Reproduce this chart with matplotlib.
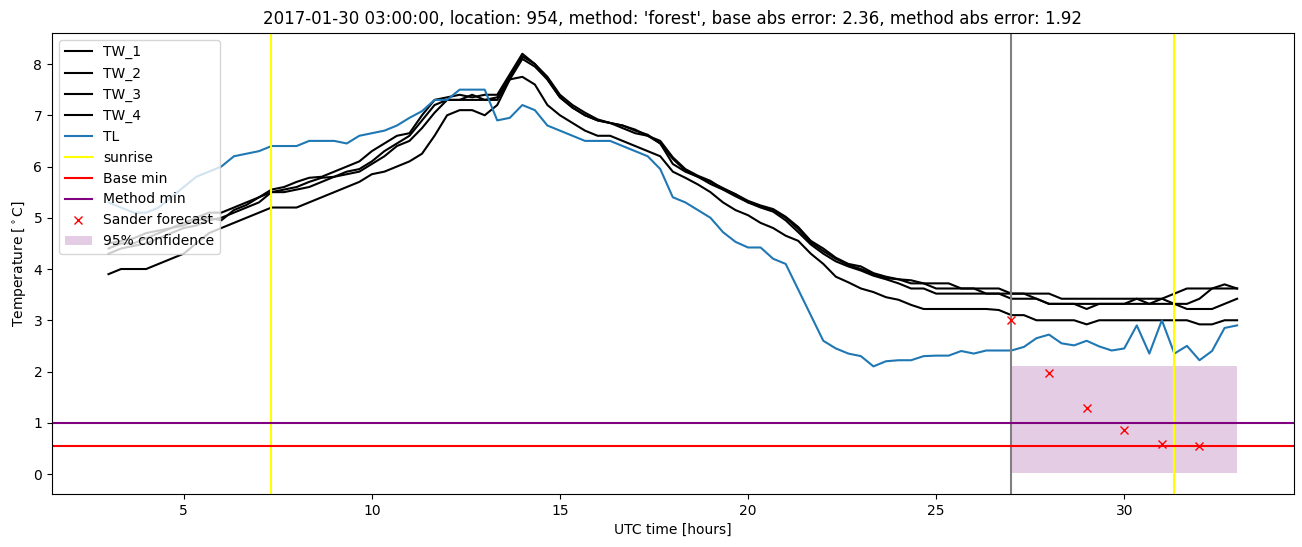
import numpy as np
import matplotlib
matplotlib.use("Agg")
import matplotlib.pyplot as plt

# time axis, 20 minute steps from 03 UTC to 33 UTC
hours = np.linspace(3, 33, 91)

tw_1 = [4.5, 4.55, 4.6, 4.7, 4.75, 4.8, 4.9, 5.0, 5.1, 5.1, 5.2, 5.3,
        5.4, 5.55, 5.6, 5.7, 5.78, 5.8, 5.9, 6.0, 6.1, 6.3, 6.45, 6.6,
        6.65, 7.0, 7.3, 7.35, 7.4, 7.35, 7.4, 7.4, 7.8, 8.2, 8.0, 7.7,
        7.35, 7.15, 7.0, 6.9, 6.85, 6.8, 6.7, 6.62, 6.45, 6.15, 5.92, 5.8,
        5.7, 5.58, 5.46, 5.33, 5.24, 5.17, 5.02, 4.82, 4.55, 4.4, 4.22, 4.1,
        4.05, 3.92, 3.85, 3.8, 3.78, 3.72, 3.72, 3.72, 3.62, 3.62, 3.62, 3.62,
        3.52, 3.52, 3.52, 3.52, 3.42, 3.42, 3.42, 3.42, 3.42, 3.42, 3.42, 3.42,
        3.42, 3.52, 3.62, 3.62, 3.62, 3.62, 3.62]
tw_2 = [4.3, 4.4, 4.45, 4.5, 4.6, 4.7, 4.8, 4.85, 4.95, 5.0, 5.1, 5.2,
        5.3, 5.5, 5.55, 5.6, 5.7, 5.78, 5.8, 5.9, 5.95, 6.1, 6.3, 6.45,
        6.6, 6.9, 7.2, 7.3, 7.3, 7.4, 7.3, 7.35, 7.75, 8.15, 8.0, 7.75,
        7.4, 7.2, 7.05, 6.92, 6.85, 6.8, 6.72, 6.6, 6.5, 6.18, 5.95, 5.82,
        5.72, 5.56, 5.46, 5.3, 5.22, 5.15, 5.0, 4.78, 4.52, 4.35, 4.2, 4.08,
        4.0, 3.9, 3.82, 3.8, 3.72, 3.72, 3.62, 3.62, 3.62, 3.62, 3.52, 3.52,
        3.42, 3.42, 3.42, 3.32, 3.32, 3.32, 3.22, 3.32, 3.32, 3.32, 3.42, 3.32,
        3.42, 3.32, 3.32, 3.42, 3.62, 3.7, 3.62]
tw_3 = [4.4, 4.5, 4.5, 4.6, 4.7, 4.8, 4.85, 4.95, 5.0, 4.95, 5.15, 5.25,
        5.4, 5.5, 5.5, 5.55, 5.6, 5.7, 5.8, 5.85, 5.9, 6.05, 6.2, 6.4,
        6.5, 6.75, 7.05, 7.3, 7.3, 7.3, 7.3, 7.3, 7.7, 8.1, 7.95, 7.7,
        7.35, 7.15, 7.0, 6.9, 6.85, 6.75, 6.65, 6.6, 6.45, 6.05, 5.9, 5.8,
        5.66, 5.55, 5.42, 5.3, 5.2, 5.12, 4.95, 4.72, 4.48, 4.3, 4.15, 4.05,
        3.97, 3.87, 3.8, 3.72, 3.62, 3.62, 3.52, 3.52, 3.52, 3.52, 3.52, 3.52,
        3.52, 3.52, 3.42, 3.32, 3.32, 3.32, 3.32, 3.32, 3.32, 3.32, 3.32, 3.32,
        3.32, 3.32, 3.22, 3.22, 3.22, 3.32, 3.42]
tw_4 = [3.9, 4.0, 4.0, 4.0, 4.1, 4.2, 4.3, 4.5, 4.7, 4.8, 4.9, 5.0,
        5.1, 5.2, 5.2, 5.2, 5.3, 5.4, 5.5, 5.6, 5.7, 5.85, 5.9, 6.0,
        6.1, 6.25, 6.6, 7.0, 7.1, 7.1, 7.0, 7.2, 7.7, 7.75, 7.6, 7.2,
        7.0, 6.85, 6.7, 6.6, 6.6, 6.5, 6.4, 6.3, 6.2, 5.9, 5.78, 5.65,
        5.5, 5.3, 5.15, 5.05, 4.9, 4.8, 4.65, 4.55, 4.3, 4.1, 3.85, 3.74,
        3.62, 3.55, 3.45, 3.4, 3.3, 3.22, 3.22, 3.22, 3.22, 3.22, 3.22, 3.2,
        3.1, 3.1, 3.0, 3.0, 3.0, 3.0, 2.92, 3.0, 3.0, 3.0, 3.0, 3.0,
        3.0, 3.0, 3.0, 2.92, 2.92, 3.0, 3.0]
tl = [5.3, 5.2, 5.1, 5.1, 5.2, 5.4, 5.6, 5.8, 5.9, 6.0, 6.2, 6.25,
      6.3, 6.4, 6.4, 6.4, 6.5, 6.5, 6.5, 6.45, 6.6, 6.65, 6.7, 6.8,
      6.95, 7.08, 7.3, 7.3, 7.5, 7.5, 7.5, 6.9, 6.95, 7.2, 7.1, 6.8,
      6.7, 6.6, 6.5, 6.5, 6.5, 6.4, 6.3, 6.2, 5.95, 5.4, 5.3, 5.15,
      5.0, 4.72, 4.53, 4.42, 4.42, 4.2, 4.1, 3.6, 3.1, 2.6, 2.45, 2.35,
      2.3, 2.1, 2.2, 2.22, 2.22, 2.3, 2.31, 2.31, 2.4, 2.35, 2.41, 2.41,
      2.41, 2.48, 2.65, 2.72, 2.55, 2.51, 2.6, 2.49, 2.41, 2.45, 2.9, 2.35,
      3.0, 2.35, 2.5, 2.22, 2.4, 2.85, 2.9]

sunrise = [7.33, 31.33]
forecast_start = 27
base_min = 0.55
method_min = 0.99
forecast_hours = [27, 28, 29, 30, 31, 32]
forecast = [3.0, 1.98, 1.28, 0.85, 0.58, 0.55]
conf_hours = [27, 33]
conf_low = 0.02
conf_high = 2.1

fig, ax = plt.subplots(figsize=(13.02, 5.47), dpi=100)
plt.subplots_adjust(left=0.040, right=0.9935, bottom=0.097, top=0.94)

for i, tw in enumerate([tw_1, tw_2, tw_3, tw_4]):
    ax.plot(hours, tw, color='black', label='TW_%d' % (i + 1))
ax.plot(hours, tl, color='C0', label='TL')
ax.axvline(sunrise[0], color='yellow', label='sunrise')
ax.axvline(sunrise[1], color='yellow')
ax.axvline(forecast_start, color='gray')
ax.axhline(base_min, color='red', label='Base min')
ax.axhline(method_min, color='purple', label='Method min')
ax.plot(forecast_hours, forecast, 'rx', label='Sander forecast')
ax.fill_between(conf_hours, conf_low, conf_high, color='purple', alpha=0.2,
                linewidth=0, label='95% confidence')

ax.set_xlabel('UTC time [hours]')
ax.set_ylabel(r'Temperature [$^\circ$C]')
ax.set_title("2017-01-30 03:00:00, location: 954, method: 'forest', "
             "base abs error: 2.36, method abs error: 1.92")
ax.legend(loc='upper left')

plt.savefig('out.png')
